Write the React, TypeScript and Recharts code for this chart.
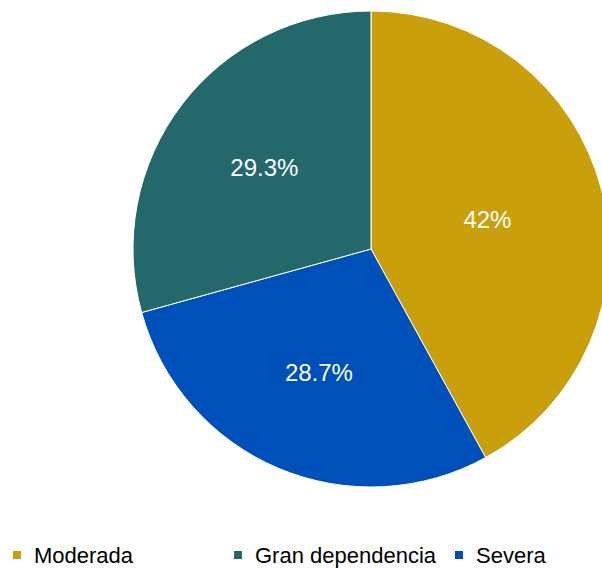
import { PieChart, Pie, Cell, Legend } from 'recharts';

// clockwise from 12 o'clock, as drawn
const categories = ['Moderada', 'Severa', 'Gran dependencia'];
const shares = [42, 28.7, 29.3];
const colors = ['#C9A00C', '#0050BA', '#24686C'];
// legend reads in a different order than the slices
const legendOrder = ['Moderada', 'Gran dependencia', 'Severa'];

const data = categories.map((name, i) => ({ name, value: shares[i] }));

const RAD = Math.PI / 180;
const FONT = '"Liberation Sans", Arial, sans-serif';

function SliceLabel(props: any) {
  const { cx, cy, midAngle, outerRadius, value } = props;
  const cos = Math.cos(-midAngle * RAD);
  // labels on the left half sit a bit further out in the original
  const r = outerRadius * (cos >= 0 ? 0.505 : 0.563);
  const x = cx + r * cos;
  const y = cy + r * Math.sin(-midAngle * RAD);
  return (
    <text
      x={x}
      y={y}
      fill="#fff"
      fontSize={24}
      fontFamily={FONT}
      textAnchor="middle"
      dominantBaseline="central"
    >
      {`${value}%`}
    </text>
  );
}

function LegendContent({ payload }: any) {
  const items = legendOrder
    .map((n) => (payload || []).find((p: any) => p.value === n))
    .filter(Boolean);
  return (
    <div style={{ display: 'flex', paddingLeft: 13, fontFamily: FONT, fontSize: 22, lineHeight: '28px', color: '#000' }}>
      {items.map((p: any) => (
        <div key={p.value} style={{ width: 221, display: 'flex', alignItems: 'flex-start', flexShrink: 0 }}>
          <span style={{ width: 8, height: 8, marginTop: 9, background: p.color, display: 'inline-block' }} />
          <span style={{ marginLeft: 13, whiteSpace: 'nowrap' }}>{p.value}</span>
        </div>
      ))}
    </div>
  );
}

export default function App() {
  return (
    <div style={{ position: 'absolute', left: 0, top: 0, width: 602, height: 568, overflow: 'hidden', background: '#fff' }}>
      <PieChart width={602} height={568} margin={{ top: 0, right: 0, bottom: 0, left: 0 }}>
        <Pie
          data={data}
          dataKey="value"
          nameKey="name"
          cx={371}
          cy={249}
          outerRadius={238}
          startAngle={90}
          endAngle={-270}
          stroke="#fff"
          strokeWidth={1}
          label={SliceLabel}
          labelLine={false}
          isAnimationActive={false}
        >
          {data.map((d, i) => (
            <Cell key={d.name} fill={colors[i]} />
          ))}
        </Pie>
        <Legend
          content={LegendContent}
          wrapperStyle={{ position: 'absolute', left: 0, top: 542, width: 602, height: 28 }}
        />
      </PieChart>
    </div>
  );
}
